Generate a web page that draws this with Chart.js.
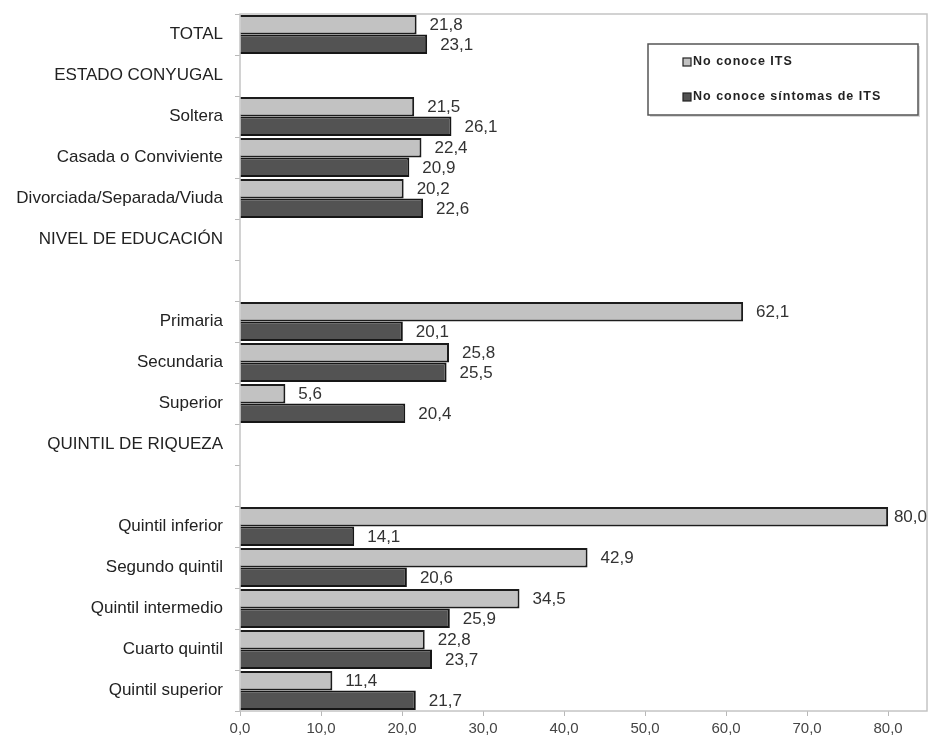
<!DOCTYPE html>
<html lang="es">
<head>
<meta charset="utf-8">
<title>Conocimiento de ITS</title>
<script src="https://cdn.jsdelivr.net/npm/chart.js@4.4.1/dist/chart.umd.min.js"></script>
<style>
  html, body { margin: 0; padding: 0; background: #fff; }
  #chart { display: block; }
</style>
</head>
<body>
<canvas id="chart" width="929" height="740"></canvas>
<script>
// filas del eje vertical (las vacias son separadores)
const categories = [
  'TOTAL', 'ESTADO CONYUGAL', 'Soltera', 'Casada o Conviviente', 'Divorciada/Separada/Viuda',
  'NIVEL DE EDUCACIÓN', '', 'Primaria', 'Secundaria', 'Superior',
  'QUINTIL DE RIQUEZA', '', 'Quintil inferior', 'Segundo quintil', 'Quintil intermedio',
  'Cuarto quintil', 'Quintil superior'
];
const noConoceIts      = [21.8, null, 21.5, 22.4, 20.2, null, null, 62.1, 25.8, 5.6, null, null, 80.0, 42.9, 34.5, 22.8, 11.4];
const noConoceSintomas = [23.1, null, 26.1, 20.9, 22.6, null, null, 20.1, 25.5, 20.4, null, null, 14.1, 20.6, 25.9, 23.7, 21.7];
const seriesNames = ['No conoce ITS', 'No conoce síntomas de ITS'];
const xTicks = [0, 10, 20, 30, 40, 50, 60, 70, 80];

const FONT = '"Liberation Sans", Arial, sans-serif';
const fmt = v => v.toFixed(1).replace('.', ',');

// marco gris del area de trazado
const framePlugin = {
  id: 'frame',
  beforeDatasetsDraw(chart) {
    const { ctx, chartArea: a } = chart;
    ctx.save();
    ctx.strokeStyle = '#c4c4c4';
    ctx.lineWidth = 1.5;
    ctx.strokeRect(a.left, a.top, a.right - a.left, a.bottom - a.top);
    ctx.restore();
  }
};

// etiquetas de valor a la derecha de cada barra
const valuePlugin = {
  id: 'values',
  afterDatasetsDraw(chart) {
    const { ctx } = chart;
    ctx.save();
    ctx.font = '17px ' + FONT;
    ctx.fillStyle = '#333';
    ctx.textBaseline = 'middle';
    chart.data.datasets.forEach((ds, di) => {
      chart.getDatasetMeta(di).data.forEach((bar, i) => {
        const v = ds.data[i];
        if (v == null) return;
        const txt = fmt(v);
        const w = ctx.measureText(txt).width;
        const x = Math.min(bar.x + 13, chart.width - w - 2);
        ctx.fillText(txt, x, bar.y + 1);
      });
    });
    ctx.restore();
  }
};

// leyenda en recuadro arriba a la derecha
const legendBox = {
  id: 'legendBox',
  afterDraw(chart) {
    const { ctx } = chart;
    const box = { x: 648, y: 44, w: 270, h: 71 };
    ctx.save();
    ctx.fillStyle = '#d8d8d8';
    ctx.fillRect(box.x + 2, box.y + 2, box.w, box.h);
    ctx.fillStyle = '#fff';
    ctx.fillRect(box.x, box.y, box.w, box.h);
    ctx.strokeStyle = '#555';
    ctx.lineWidth = 1.5;
    ctx.strokeRect(box.x, box.y, box.w, box.h);

    ctx.font = 'bold 12.5px ' + FONT;
    ctx.letterSpacing = '1px';
    ctx.textBaseline = 'middle';
    chart.data.datasets.forEach((ds, i) => {
      const cy = box.y + 18 + i * 35;
      ctx.fillStyle = ds.backgroundColor;
      ctx.fillRect(683, cy - 4, 8, 8);
      ctx.strokeStyle = '#222';
      ctx.lineWidth = 1.2;
      ctx.strokeRect(683, cy - 4, 8, 8);
      ctx.fillStyle = '#222';
      ctx.fillText(ds.label, 693, cy);
    });
    ctx.restore();
  }
};

new Chart(document.getElementById('chart'), {
  type: 'bar',
  data: {
    labels: categories,
    datasets: [
      {
        label: seriesNames[0],
        data: noConoceIts,
        backgroundColor: '#c2c2c2',
        borderColor: '#1c1c1c',
        borderWidth: 2,
      },
      {
        label: seriesNames[1],
        data: noConoceSintomas,
        backgroundColor: '#535353',
        borderColor: '#161616',
        borderWidth: 2,
      }
    ]
  },
  options: {
    indexAxis: 'y',
    responsive: false,
    animation: false,
    devicePixelRatio: 1,
    barPercentage: 1,
    categoryPercentage: 0.95,
    layout: { padding: { top: 14, right: 2, left: 0, bottom: 0 } },
    plugins: {
      legend: { display: false },
      tooltip: { enabled: false }
    },
    scales: {
      x: {
        min: 0,
        max: 84.8,
        afterBuildTicks: scale => { scale.ticks = xTicks.map(v => ({ value: v })); },
        afterFit: scale => { scale.height = 29; },
        border: { display: false },
        grid: { drawOnChartArea: false, tickLength: 5, color: '#b8b8b8' },
        ticks: {
          padding: 4,
          color: '#444',
          font: { family: FONT, size: 15 },
          callback: v => fmt(v)
        }
      },
      y: {
        afterFit: scale => {
          scale.width = 240;
          scale.paddingTop = 0;
          scale.paddingBottom = 0;
        },
        border: { display: false },
        grid: { drawOnChartArea: false, offset: true, tickLength: 5, color: '#b8b8b8' },
        ticks: {
          padding: 12,
          color: '#222',
          autoSkip: false,
          font: { family: FONT, size: 17 }
        }
      }
    }
  },
  plugins: [framePlugin, valuePlugin, legendBox]
});
</script>
</body>
</html>
